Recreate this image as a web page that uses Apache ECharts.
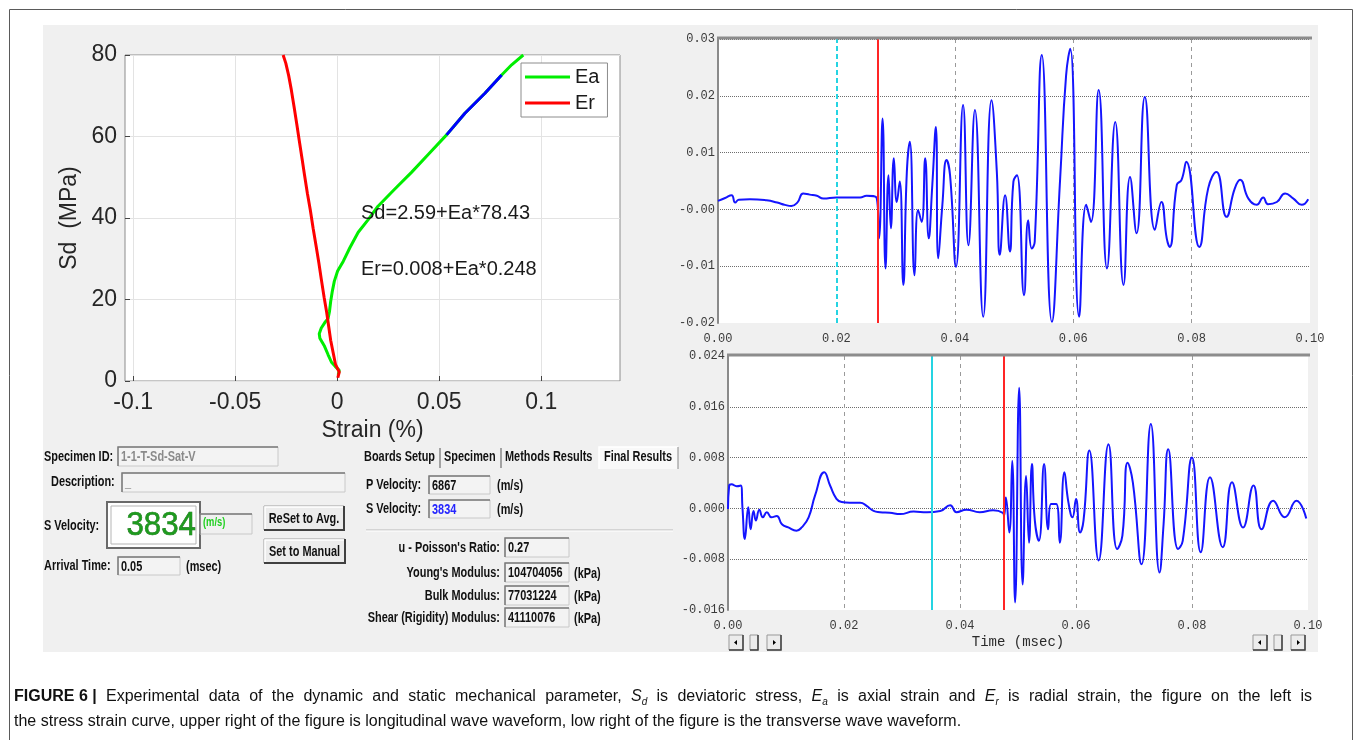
<!DOCTYPE html>
<html>
<head>
<meta charset="utf-8">
<script src="https://cdn.jsdelivr.net/npm/echarts@6/dist/echarts.min.js"></script>
<style>
  html, body { margin: 0; padding: 0; background: #fff; }
  #main { width: 1357px; height: 740px; }
</style>
</head>
<body>
<div id="main"></div>
<script>
// stress - strain curve, [strain (%), Sd (MPa)]
var eaCurve = [[0.0005,1.5],[0.001,2.6],[-0.001,3.6],[-0.0028,4.6],[-0.0045,6.5],[-0.0062,8.5],[-0.0085,10.5],[-0.0088,11.6],[-0.0078,13],[-0.006,14.4],[-0.0045,15.3],[-0.0038,17],[-0.0032,19.5],[-0.0024,22],[-0.0014,24.5],[0.0002,27],[0.003,29.4],[0.0062,32.7],[0.0103,36.5],[0.0152,39.6],[0.02,42.9],[0.028,47],[0.0364,51.2],[0.0446,55.6],[0.0536,60.4],[0.0626,65.7],[0.0724,70.6],[0.0806,75.1],[0.0855,77.6],[0.0912,80]];
var eaFit = [[0.0536,60.4],[0.0626,65.7],[0.0724,70.6],[0.0806,75.1]];
var erCurve = [[0.0003,0.8],[0.001,2.2],[-0.0008,4],[-0.002,7],[-0.0032,10],[-0.0042,13.5],[-0.0052,17],[-0.0064,20.5],[-0.0078,25],[-0.009,29],[-0.0103,33],[-0.0118,37.5],[-0.0132,42],[-0.0146,46],[-0.016,50.5],[-0.0172,54.5],[-0.0186,59],[-0.0198,63],[-0.0212,67.5],[-0.0225,71.5],[-0.0238,75],[-0.0252,78],[-0.0265,80]];
var strainTicks = [-0.1, -0.05, 0, 0.05, 0.1];
var strainLabels = ['-0.1', '-0.05', '0', '0.05', '0.1'];
var fitText = ['Sd=2.59+Ea*78.43', 'Er=0.008+Ea*0.248'];

// longitudinal (P) wave, [time (msec), amplitude]
var pWave = [[0,0.0015],[0.0012,0.002],[0.0023,0.0025],[0.0029,0.0012],[0.0035,0.0017],[0.0054,0.0018],[0.0082,0.0016],[0.01,0.0012],[0.0113,0.0008],[0.0124,0.0006],[0.0134,0.0012],[0.0144,0.0028],[0.0155,0.0026],[0.0167,0.0024],[0.0178,0.0019],[0.02,0.0021],[0.0223,0.0021],[0.024,0.0021],[0.0251,0.0024],[0.0268,0.002],
  [0.0272,-0.0051],[0.0278,0.016],[0.0283,-0.0104],[0.0288,0.006],[0.0292,-0.0033],[0.0297,0.009],[0.0302,0.0013],[0.0307,0.0049],[0.0313,-0.0133],[0.0319,0.0066],[0.0324,0.0119],[0.0332,-0.0116],[0.0338,-0.0001],[0.0344,-0.0022],[0.035,0.009],[0.0356,-0.0051],[0.0362,0.0043],[0.0368,0.0145],[0.0372,-0.0086],[0.0379,0.0008],[0.0386,0.0087],[0.0392,0.006],[0.0402,-0.0101],[0.0414,0.0184],[0.0423,-0.0063],[0.0434,0.0175],[0.0448,-0.0189],[0.0462,0.0192],[0.0471,0.0066],[0.0476,-0.008],[0.0485,0.0025],[0.0493,-0.0074],[0.0499,0.0049],[0.0505,0.006],[0.0517,-0.0151],[0.0524,-0.0019],[0.053,-0.0069],[0.0535,-0.0057],[0.0547,0.0272],[0.0564,-0.0198],[0.0578,0.0055],[0.0588,0.0236],[0.0595,0.0283],[0.061,-0.0189],[0.0622,0.0008],[0.063,-0.0022],[0.0643,0.021],[0.0657,-0.0104],[0.0671,0.0154],[0.0685,-0.0133],[0.0696,0.0057],[0.0707,-0.0042],[0.0721,0.0198],[0.0738,-0.0036],[0.0749,0.0013],[0.0758,-0.0051],[0.0763,-0.0066],[0.0775,0.0043],[0.0783,0.0052],[0.0791,0.0084],[0.0813,-0.0066],[0.0828,0.0037],[0.0842,0.0066],[0.0859,-0.0013],[0.0873,0.0037],[0.0882,0.0052],[0.0896,0.0019],[0.091,0.0008],[0.0921,0.0021],[0.0929,0.0009],[0.0944,0.0013],[0.0958,0.0028],[0.0972,0.0019],[0.0986,0.0008],[0.0997,0.0018]];
var pPicks = [0.02, 0.027];
var pAmpLabels = ['-0.02', '-0.01', '-0.00', '0.01', '0.02', '0.03'];

// transverse (S) wave
var sWave = [[0,-0.0001],[0.0002,0.0036],[0.0006,0.0038],[0.0015,0.0035],[0.0022,0.0036],[0.0025,0],[0.0029,-0.0048],[0.0035,0.0002],[0.0039,-0.0033],[0.0044,-0.0004],[0.0048,-0.0019],[0.0054,-0.0002],[0.006,-0.0014],[0.0067,-0.0006],[0.0075,-0.0014],[0.0084,-0.0012],[0.0093,-0.0025],[0.0104,-0.003],[0.0118,-0.0035],[0.0127,-0.003],[0.0139,-0.0014],[0.015,0.002],[0.0166,0.0057],[0.0176,0.0036],[0.0187,0.0015],[0.0196,0.001],[0.021,0.0009],[0.0228,0.0009],[0.0239,0.0004],[0.0251,-0.0004],[0.0262,-0.0006],[0.0279,-0.0007],[0.0297,-0.0009],[0.032,-0.0005],[0.0343,-0.0006],[0.0366,-0.0004],[0.0383,0.0005],[0.0394,-0.0006],[0.0411,-0.0002],[0.0434,-0.0006],[0.0457,-0.0003],[0.0474,-0.0007],
  [0.0476,-0.0012],[0.0479,0.0017],[0.0485,-0.0038],[0.049,0.0075],[0.0495,-0.0148],[0.0502,0.019],[0.0508,-0.012],[0.0514,0.0051],[0.0519,-0.0054],[0.0524,0.007],[0.0529,-0.0019],[0.0536,-0.0051],[0.0545,0.007],[0.0552,-0.0033],[0.0557,0.0007],[0.0566,0.0007],[0.0572,-0.0054],[0.058,0.0057],[0.0587,0.0009],[0.0594,-0.0014],[0.06,0.0015],[0.0607,-0.0038],[0.0613,-0.0019],[0.0623,0.0091],[0.0639,-0.0082],[0.0656,0.0101],[0.0671,-0.0064],[0.068,-0.0043],[0.0689,0.0072],[0.0698,0.0041],[0.0713,-0.0088],[0.0729,0.0133],[0.0744,-0.0101],[0.0751,-0.0025],[0.0759,0.0093],[0.0776,-0.0064],[0.0784,-0.0051],[0.08,0.008],[0.0815,-0.0069],[0.0831,0.0049],[0.0853,-0.0061],[0.0869,0.0041],[0.0888,-0.003],[0.0906,0.0036],[0.092,-0.0033],[0.094,0.0012],[0.096,-0.0014],[0.098,0.0012],[0.0997,-0.0016]];
var sPicks = [0.0351, 0.0476];
var sAmpLabels = ['-0.016', '-0.008', '0.000', '0.008', '0.016', '0.024'];
var timeLabels = ['0.00', '0.02', '0.04', '0.06', '0.08', '0.10'];

// software panel values
var specimen = { id: '1-1-T-Sd-Sat-V', desc: '_', sVel: '3834', arrival: '0.05' };
var tabs = ['Boards Setup', 'Specimen', 'Methods Results', 'Final Results'];
var results = [
  ['u - Poisson\'s Ratio:', '0.27', ''],
  ['Young\'s Modulus:', '104704056', '(kPa)'],
  ['Bulk Modulus:', '77031224', '(kPa)'],
  ['Shear (Rigidity) Modulus:', '41110076', '(kPa)']
];
var captionHead = 'FIGURE 6 |';
var caption1 = 'Experimental data of the dynamic and static mechanical parameter, S_d is deviatoric stress, E_a is axial strain and E_r is radial strain, the figure on the left is';
var caption2 = 'the stress strain curve, upper right of the figure is longitudinal wave waveform, low right of the figure is the transverse wave waveform.';

var sans = '"Liberation Sans", Arial, sans-serif';
var mono = '"Liberation Mono", "DejaVu Sans Mono", monospace';
var uiFont = 'bold 14px "Liberation Sans", Arial, sans-serif';

var chart = echarts.init(document.getElementById('main'));

function idxLabel(list, min, step) {
  return function (v) { return list[Math.round((v - min) / step)]; };
}

// small helpers for the form widgets
function uiText(x, y, text, align, color, font) {
  return { type: 'text', x: x, y: y, scaleX: 0.78, z: 20,
    style: { text: text, x: 0, y: 0, align: align || 'left', verticalAlign: 'middle', font: font || uiFont, fill: color || '#111' } };
}
function sunken(x, y, w, h, fill) {
  return [
    { type: 'rect', z: 10, shape: { x: x, y: y, width: w, height: h }, style: { fill: fill || '#f3f3f3', stroke: '#c8c8c8', lineWidth: 1 } },
    { type: 'polyline', z: 11, shape: { points: [[x, y + h], [x, y], [x + w, y]] }, style: { stroke: '#7a7a7a', lineWidth: 1.5, fill: null } }
  ];
}
function field(x, y, w, h, text, color) {
  var els = sunken(x, y, w, h);
  els.push(uiText(x + 3, y + h / 2 + 1, text, 'left', color));
  return els;
}
function button(x, y, w, h, text) {
  return [
    { type: 'rect', z: 10, shape: { x: x, y: y, width: w, height: h }, style: { fill: '#ececec', stroke: '#a0a0a0', lineWidth: 1 } },
    { type: 'polyline', z: 11, shape: { points: [[x + 1, y + h - 1], [x + 1, y + 1], [x + w - 1, y + 1]] }, style: { stroke: '#fff', lineWidth: 1.5, fill: null } },
    { type: 'polyline', z: 11, shape: { points: [[x, y + h], [x + w, y + h], [x + w, y]] }, style: { stroke: '#404040', lineWidth: 2, fill: null } },
    uiText(x + w / 2, y + h / 2 + 1, text, 'center')
  ];
}
function scrollBtns(x, y) {
  var els = [];
  [[x, 'l'], [x + 21, 'm'], [x + 38, 'r']].forEach(function (b) {
    var bx = b[0], w = b[1] === 'm' ? 8 : 14;
    els.push({ type: 'rect', z: 10, shape: { x: bx, y: y, width: w, height: 15 }, style: { fill: '#ececec', stroke: '#999', lineWidth: 1 } });
    els.push({ type: 'polyline', z: 11, shape: { points: [[bx, y + 15], [bx + w, y + 15], [bx + w, y]] }, style: { stroke: '#404040', lineWidth: 1.5, fill: null } });
    if (b[1] === 'l') els.push({ type: 'polygon', z: 12, shape: { points: [[bx + 5, y + 7.5], [bx + 8, y + 5], [bx + 8, y + 10]] }, style: { fill: '#000' } });
    if (b[1] === 'r') els.push({ type: 'polygon', z: 12, shape: { points: [[bx + 9, y + 7.5], [bx + 6, y + 5], [bx + 6, y + 10]] }, style: { fill: '#000' } });
  });
  return els;
}

var g = [];
// outer caption frame and grey software panel
g.push({ type: 'rect', z: -20, shape: { x: 9.5, y: 9.5, width: 1343, height: 760 }, style: { fill: '#fff', stroke: '#5a5a5a', lineWidth: 1 } });
g.push({ type: 'rect', z: -19, shape: { x: 43, y: 25, width: 1275, height: 627 }, style: { fill: '#f0f0f0' } });
// wave chart top borders
g.push({ type: 'line', z: 15, shape: { x1: 717, y1: 38, x2: 1312, y2: 38 }, style: { stroke: '#8c8c8c', lineWidth: 3 } });
g.push({ type: 'line', z: 15, shape: { x1: 727, y1: 355, x2: 1310, y2: 355 }, style: { stroke: '#8c8c8c', lineWidth: 3 } });
// fitted equations
g.push({ type: 'text', z: 20, x: 361, y: 213, style: { text: fitText[0], x: 0, y: 0, verticalAlign: 'middle', font: '20px ' + sans, fill: '#1a1a1a' } });
g.push({ type: 'text', z: 20, x: 361, y: 269, style: { text: fitText[1], x: 0, y: 0, verticalAlign: 'middle', font: '20px ' + sans, fill: '#1a1a1a' } });

// left form
g.push(uiText(44, 457, 'Specimen ID:'));
g = g.concat(field(118, 447, 160, 19, specimen.id, '#8a8a8a'));
g.push(uiText(51, 482, 'Description:'));
g = g.concat(field(122, 473, 223, 19, specimen.desc, '#777'));
g.push(uiText(44, 526, 'S Velocity:'));
g.push({ type: 'rect', z: 10, shape: { x: 107, y: 502, width: 93, height: 46 }, style: { fill: '#fff', stroke: '#6a6a6a', lineWidth: 2 } });
g.push({ type: 'rect', z: 11, shape: { x: 111, y: 506, width: 85, height: 38 }, style: { fill: '#fff', stroke: '#b5b5b5', lineWidth: 1 } });
g.push({ type: 'text', z: 20, x: 196, y: 526, scaleX: 0.92, style: { text: specimen.sVel, x: 0, y: 0, align: 'right', verticalAlign: 'middle', font: '34px ' + sans, fill: '#1e9a1e', stroke: '#0b5e0b', lineWidth: 0.6 } });
g = g.concat(sunken(200, 514, 52, 20, '#f0f0f0'));
g.push(uiText(203, 523, '(m/s)', 'left', '#20d020', 'bold 12px ' + sans));
g = g.concat(button(264, 506, 80, 24, 'ReSet to Avg.'));
g = g.concat(button(264, 539, 81, 24, 'Set to Manual'));
g.push(uiText(44, 566, 'Arrival Time:'));
g = g.concat(field(118, 557, 62, 18, specimen.arrival));
g.push(uiText(186, 567, '(msec)'));

// right form with tabs
g.push({ type: 'rect', z: 9, shape: { x: 599, y: 447, width: 79, height: 22 }, style: { fill: '#f9f9f9' } });
g.push({ type: 'polyline', z: 10, shape: { points: [[599, 469], [599, 447], [678, 447]] }, style: { stroke: '#fff', lineWidth: 1.5, fill: null } });
g.push({ type: 'line', z: 10, shape: { x1: 678, y1: 447, x2: 678, y2: 469 }, style: { stroke: '#888', lineWidth: 1 } });
g.push(uiText(364, 457, tabs[0]));
g.push(uiText(444, 457, tabs[1]));
g.push(uiText(505, 457, tabs[2]));
g.push(uiText(604, 457, tabs[3]));
[440, 501].forEach(function (x) {
  g.push({ type: 'line', z: 10, shape: { x1: x, y1: 448, x2: x, y2: 468 }, style: { stroke: '#555', lineWidth: 1 } });
});
g.push(uiText(366, 485, 'P Velocity:'));
g = g.concat(field(429, 476, 61, 18, '6867'));
g.push(uiText(497, 486, '(m/s)'));
g.push(uiText(366, 509, 'S Velocity:'));
g = g.concat(field(429, 500, 61, 18, specimen.sVel, '#2525ff'));
g.push(uiText(497, 510, '(m/s)'));
g.push({ type: 'line', z: 10, shape: { x1: 366, y1: 530, x2: 673, y2: 530 }, style: { stroke: '#b8b8b8', lineWidth: 1 } });
g.push({ type: 'line', z: 10, shape: { x1: 366, y1: 531, x2: 673, y2: 531 }, style: { stroke: '#fff', lineWidth: 1 } });
[538, 563, 586, 608].forEach(function (y, i) {
  g.push(uiText(500, y + 10, results[i][0], 'right'));
  g = g.concat(field(505, y, 64, 19, results[i][1]));
  if (results[i][2]) g.push(uiText(574, y + 11, results[i][2]));
});

// scroll buttons under the S wave
g = g.concat(scrollBtns(729, 635));
g = g.concat(scrollBtns(1253, 635));

// caption, first line justified to the frame width
var capSize = 16;
var capFonts = { b: 'bold ' + capSize + 'px ' + sans, n: capSize + 'px ' + sans, i: 'italic ' + capSize + 'px ' + sans, s: 'italic 10px ' + sans };
var capRich = {
  b: { fontSize: capSize, fontWeight: 'bold', fontFamily: sans, fill: '#111', lineHeight: 20 },
  n: { fontSize: capSize, fontFamily: sans, fill: '#111', lineHeight: 20 },
  i: { fontSize: capSize, fontStyle: 'italic', fontFamily: sans, fill: '#111', lineHeight: 20 },
  s: { fontSize: 10, fontStyle: 'italic', fontFamily: sans, fill: '#111', lineHeight: 10, verticalAlign: 'bottom' }
};
var ctx = document.createElement('canvas').getContext('2d');
function wordRuns(w) {
  var m = w.match(/^([A-Z])_([a-z])(.*)$/);
  if (m) { var r = [['i', m[1]], ['s', m[2]]]; if (m[3]) r.push(['n', m[3]]); return r; }
  return [['n', w]];
}
function runsWidth(runs) {
  return runs.reduce(function (a, r) { ctx.font = capFonts[r[0]]; return a + ctx.measureText(r[1]).width; }, 0);
}
function captionLine(words, y, right) {
  var widths = words.map(runsWidth);
  var total = widths.reduce(function (a, b) { return a + b; }, 0);
  ctx.font = capFonts.n;
  var gap = right ? (right - 14 - total) / (words.length - 1) : ctx.measureText(' ').width;
  var x = 14;
  words.forEach(function (runs, k) {
    g.push({ type: 'text', z: 20, x: x, y: y, style: { x: 0, y: 0, verticalAlign: 'middle', rich: capRich,
      text: runs.map(function (r) { return '{' + r[0] + '|' + r[1] + '}'; }).join('') } });
    x += widths[k] + gap;
  });
}
captionLine([[['b', captionHead]]].concat(caption1.split(' ').map(wordRuns)), 697, 1312);
captionLine(caption2.split(' ').map(wordRuns), 722, 0);

var waveY = function (idx, min, step, labels) {
  return {
    type: 'value', gridIndex: idx, min: min, max: min + step * 5, interval: step,
    axisLine: { show: true, onZero: false, lineStyle: { color: '#8a8a8a', width: 2 } },
    axisTick: { show: false },
    axisLabel: { fontFamily: mono, fontSize: 12, color: '#3a3a3a', margin: 3, showMinLabel: true, showMaxLabel: true,
      formatter: idxLabel(labels, min, step) },
    splitLine: { show: true, showMinLine: false, showMaxLine: false, lineStyle: { type: 'dotted', color: '#6e6e6e', width: 1 } }
  };
};
var waveX = function (idx, name) {
  return {
    type: 'value', gridIndex: idx, min: 0, max: 0.1, interval: 0.02,
    axisLine: { show: false, onZero: false }, axisTick: { show: false },
    axisLabel: { fontFamily: mono, fontSize: 12, color: '#3a3a3a', margin: 10, showMinLabel: true, showMaxLabel: true,
      formatter: idxLabel(timeLabels, 0, 0.02) },
    splitLine: { show: true, showMinLine: false, showMaxLine: false, lineStyle: { type: [4, 4], color: '#9a9a9a', width: 1 } },
    name: name || '', nameLocation: 'middle', nameGap: 25,
    nameTextStyle: { fontFamily: mono, fontSize: 14, color: '#2a2a2a' }
  };
};
var pickLines = function (picks, dashed) {
  return {
    symbol: 'none', silent: true, animation: false, precision: 5, label: { show: false },
    data: [
      { xAxis: picks[0], lineStyle: { color: '#25d4e2', width: 2, type: dashed ? [5, 3] : 'solid' } },
      { xAxis: picks[1], lineStyle: { color: '#ff2525', width: 2, type: 'solid' } }
    ]
  };
};

var option = {
  animation: false,
  backgroundColor: '#fff',
  graphic: g,
  grid: [
    { left: 125, top: 55, width: 495, height: 326, show: true, backgroundColor: '#fff', borderColor: '#8c8c8c', borderWidth: 1 },
    { left: 718, top: 39, width: 592, height: 284, show: true, backgroundColor: '#fff', borderWidth: 0 },
    { left: 728, top: 356, width: 580, height: 254, show: true, backgroundColor: '#fff', borderWidth: 0 }
  ],
  legend: {
    data: ['Ea', 'Er'], orient: 'vertical', left: 521, top: 63,
    itemWidth: 45, itemHeight: 3, itemGap: 6, icon: 'rect',
    padding: [4, 8, 4, 4], backgroundColor: '#fff', borderColor: '#8c8c8c', borderWidth: 1,
    textStyle: { fontSize: 20, fontFamily: sans, color: '#1a1a1a' }
  },
  xAxis: [
    {
      type: 'value', gridIndex: 0, min: -0.104, max: 0.1386,
      axisLine: { show: false, onZero: false },
      axisTick: { show: true, inside: true, length: 5, customValues: strainTicks, lineStyle: { color: '#444' } },
      axisLabel: { customValues: strainTicks, fontSize: 23, fontFamily: sans, color: '#262626', margin: 10,
        formatter: function (v) { return strainLabels[strainTicks.indexOf(+v.toFixed(2))]; } },
      splitLine: { show: true, lineStyle: { color: '#e3e3e3' } },
      name: 'Strain (%)', nameLocation: 'middle', nameGap: 38,
      nameTextStyle: { fontSize: 23, fontFamily: sans, color: '#262626' }
    },
    waveX(1),
    waveX(2, 'Time (msec)')
  ],
  yAxis: [
    {
      type: 'value', gridIndex: 0, min: 0, max: 80, interval: 20,
      axisLine: { show: false, onZero: false },
      axisTick: { show: true, inside: true, length: 5, lineStyle: { color: '#444' } },
      axisLabel: { fontSize: 23, fontFamily: sans, color: '#262626', margin: 8 },
      splitLine: { show: true, lineStyle: { color: '#e3e3e3' } },
      name: 'Sd  (MPa)', nameLocation: 'middle', nameGap: 44,
      nameTextStyle: { fontSize: 23, fontFamily: sans, color: '#262626' }
    },
    waveY(1, -0.02, 0.01, pAmpLabels),
    waveY(2, -0.016, 0.008, sAmpLabels)
  ],
  series: [
    { name: 'Ea', type: 'line', xAxisIndex: 0, yAxisIndex: 0, data: eaCurve, showSymbol: false, symbol: 'none',
      lineStyle: { color: '#00ee00', width: 3 }, itemStyle: { color: '#00ee00' }, z: 3 },
    { name: 'fit', type: 'line', xAxisIndex: 0, yAxisIndex: 0, data: eaFit, showSymbol: false, symbol: 'none',
      lineStyle: { color: '#0000ff', width: 3 }, itemStyle: { color: '#0000ff' }, z: 4 },
    { name: 'Er', type: 'line', xAxisIndex: 0, yAxisIndex: 0, data: erCurve, showSymbol: false, symbol: 'none',
      lineStyle: { color: '#ff0000', width: 3 }, itemStyle: { color: '#ff0000' }, z: 3 },
    { name: 'P wave', type: 'line', xAxisIndex: 1, yAxisIndex: 1, data: pWave, showSymbol: false, symbol: 'none',
      smooth: 0.5, lineStyle: { color: '#1515ff', width: 2 }, markLine: pickLines(pPicks, true) },
    { name: 'S wave', type: 'line', xAxisIndex: 2, yAxisIndex: 2, data: sWave, showSymbol: false, symbol: 'none',
      smooth: 0.5, lineStyle: { color: '#1515ff', width: 2 }, markLine: pickLines(sPicks, false) }
  ]
};

chart.setOption(option);
</script>
</body>
</html>
